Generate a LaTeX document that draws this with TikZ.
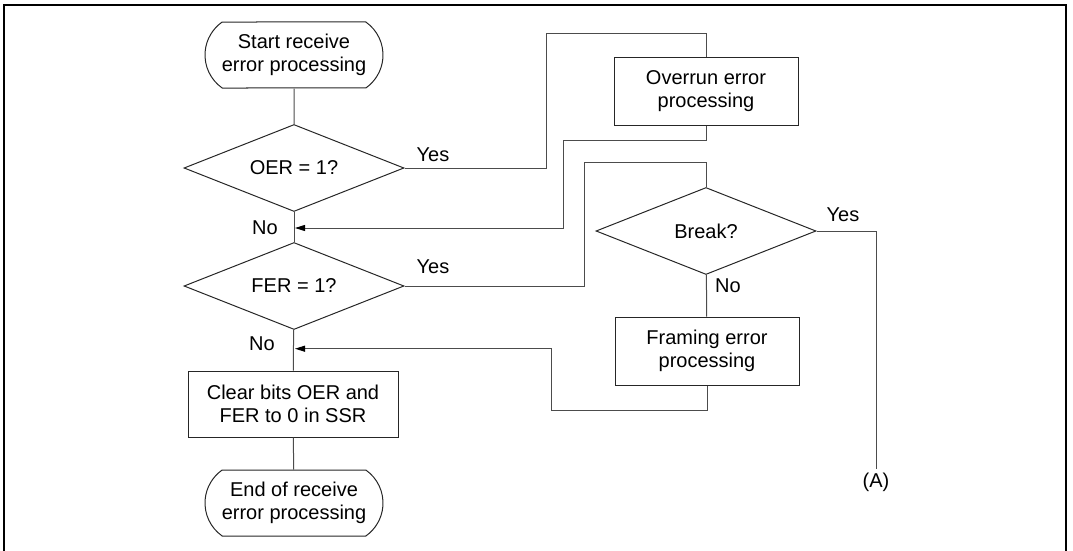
\documentclass[tikz,border=0pt]{standalone}
\usepackage{fontspec}
\setmainfont{Liberation Sans}
\usetikzlibrary{shapes.geometric,shapes.misc,arrows.meta}
\begin{document}
\begin{tikzpicture}[x=1pt,y=-1pt,
  every node/.style={font=\fontsize{20}{23}\selectfont},
  term/.style={draw=black!85,line width=1pt,rounded rectangle,rounded rectangle arc length=110,
    minimum width=182pt,minimum height=66pt,align=center,inner sep=2pt},
  proc/.style={draw=black!85,line width=1pt,rectangle,minimum width=184pt,minimum height=68pt,
    align=center,inner sep=2pt},
  decide/.style={draw=black!85,line width=1pt,diamond,aspect=2.5,minimum width=220pt,minimum height=87pt,inner sep=0pt},
  flow/.style={draw=black!70,line width=1pt},
  arr/.style={flow,-{Triangle[length=10pt,width=6pt,color=black]}}]
\useasboundingbox (0,0) rectangle (1073,551);

% Frame
\draw[line width=2pt] (4,551) -- (4,5) -- (1066,5) -- (1066,551);

% Main column
\node[term] (start) at (294,55) {Start receive\\error processing};
\node[decide] (oer) at (294,168) {OER = 1?};
\node[decide] (fer) at (294,286) {FER = 1?};
\node[proc,minimum width=210pt,minimum height=66pt] (clr) at (293,404) {Clear bits OER and\\FER to 0 in SSR};
\node[term] (fin) at (294,503) {End of receive\\error processing};

% Right column
\node[proc] (ovr) at (706,91.5) {Overrun error\\processing};
\node[decide] (brk) at (706,231) {Break?};
\node[proc] (frm) at (707,351) {Framing error\\processing};
\node (A) at (876,482) {(A)};

% Labels
\node (yes1) at (433,155) {Yes};
\node (yes2) at (433,267) {Yes};
\node (yes3) at (843,215) {Yes};
\node (no1) at (265,228) {No};
\node (no2) at (262,344) {No};
\node (no3) at (728,286) {No};

% Connectors
\draw[flow] (start) -- (oer);
\draw[flow] (oer) -- (fer);
\draw[flow] (fer) -- (clr);
\draw[flow] (clr) -- (fin);

\coordinate (oerup) at (546,34);
\draw[flow] (oer.east) -| (oerup) -| (ovr.north);
\coordinate (ovrback) at (563,140);
\coordinate (join1) at (295,228);
\draw[arr] (ovr.south) |- (ovrback) |- (join1);

\coordinate (ferup) at (584,162);
\draw[flow] (fer.east) -| (ferup) -| (brk.north);
\draw[flow] (brk) -- (frm);
\coordinate (frmback) at (551,410);
\coordinate (join2) at (295,348.7);
\draw[arr] (frm.south) |- (frmback) |- (join2);
\draw[flow] (brk.east) -| (A.north);
\end{tikzpicture}
\end{document}
